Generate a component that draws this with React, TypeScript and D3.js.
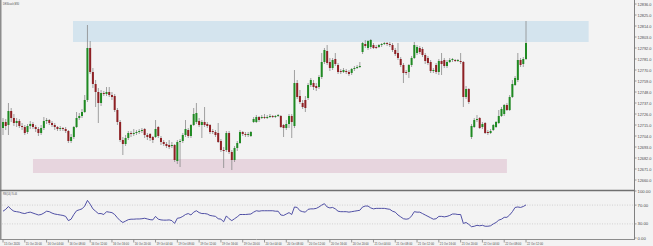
import React from 'react';
import * as d3 from 'd3';

const chartTitle = 'DE30cash,M30';
const rsiTitle = 'RSI(14) 70.44';

// [open, high, low, close]
const candles: [number, number, number, number][] = [
  [12712,12722,12705,12718],[12718,12721,12710,12714],[12715,12737,12705,12729],[12729,12732,12718,12722],
  [12722,12726,12714,12717],[12717,12722,12713,12719],[12719,12721,12712,12714],[12714,12717,12710,12713],
  [12713,12715,12705,12707],[12708,12716,12706,12714],[12714,12719,12711,12716],[12716,12718,12711,12713],
  [12713,12715,12708,12711],[12711,12713,12704,12707],[12707,12715,12705,12712],[12712,12723,12710,12719],
  [12719,12722,12716,12720],[12720,12721,12715,12717],[12717,12719,12713,12715],[12715,12717,12710,12713],
  [12713,12714,12709,12711],[12711,12714,12709,12712],[12712,12713,12709,12711],[12711,12713,12707,12709],
  [12709,12710,12697,12699],[12699,12706,12697,12703],[12703,12714,12701,12713],[12713,12728,12712,12722],
  [12722,12727,12720,12724],[12724,12731,12722,12728],[12728,12745,12727,12740],[12740,12815,12738,12792],
  [12792,12799,12766,12768],[12768,12772,12752,12756],[12756,12760,12733,12748],[12748,12752,12717,12737],
  [12737,12750,12734,12747],[12747,12749,12744,12746],[12746,12753,12744,12748],[12748,12753,12743,12745],
  [12745,12748,12740,12743],[12744,12746,12728,12730],[12730,12732,12715,12718],[12718,12720,12698,12700],
  [12700,12703,12685,12696],[12696,12705,12694,12702],[12702,12709,12700,12707],[12707,12709,12703,12706],
  [12706,12711,12704,12707],[12707,12710,12705,12708],[12708,12711,12706,12709],[12709,12712,12707,12710],
  [12711,12712,12702,12705],[12705,12707,12700,12703],[12706,12707,12699,12702],[12703,12704,12697,12700],
  [12703,12720,12702,12711],[12713,12714,12702,12704],[12702,12704,12695,12698],[12698,12700,12694,12696],
  [12696,12698,12692,12694],[12695,12700,12691,12693],[12694,12698,12692,12695],[12695,12696,12678,12680],
  [12679,12700,12676,12698],[12698,12701,12673,12699],[12699,12707,12697,12705],[12705,12720,12703,12711],
  [12710,12712,12702,12704],[12704,12716,12702,12715],[12715,12732,12714,12726],[12718,12737,12716,12727],
  [12719,12722,12713,12715],[12715,12720,12702,12718],[12718,12733,12713,12715],[12716,12718,12712,12714],
  [12715,12716,12706,12708],[12709,12711,12706,12708],[12708,12710,12703,12705],[12707,12717,12697,12698],
  [12699,12701,12688,12690],[12690,12693,12672,12689],[12690,12709,12688,12707],[12707,12709,12686,12688],
  [12688,12690,12670,12680],[12680,12694,12678,12692],[12692,12699,12689,12697],[12697,12710,12696,12708],
  [12708,12709,12704,12706],[12706,12708,12703,12705],[12705,12708,12703,12706],[12704,12709,12703,12708],
  [12718,12723,12717,12721],[12718,12725,12717,12723],[12723,12724,12718,12720],[12722,12725,12721,12723],
  [12723,12726,12721,12722],[12722,12725,12721,12723],[12723,12726,12722,12724],[12724,12725,12722,12723],
  [12723,12725,12722,12724],[12724,12726,12723,12725],[12724,12725,12712,12713],[12715,12716,12703,12712],
  [12712,12720,12710,12716],[12716,12726,12712,12724],[12724,12726,12702,12718],[12714,12770,12712,12757],
  [12757,12760,12741,12743],[12744,12750,12736,12738],[12737,12740,12731,12733],[12740,12744,12728,12732],
  [12742,12757,12740,12755],[12755,12762,12753,12760],[12757,12760,12750,12753],[12754,12757,12749,12752],
  [12753,12765,12751,12763],[12763,12787,12761,12778],[12778,12792,12776,12790],[12789,12795,12775,12777],
  [12778,12782,12769,12772],[12772,12782,12770,12780],[12781,12787,12774,12776],[12775,12777,12766,12768],
  [12769,12771,12766,12768],[12768,12772,12767,12770],[12769,12771,12766,12768],[12768,12770,12764,12766],
  [12767,12772,12765,12771],[12771,12774,12769,12772],[12772,12775,12771,12773],[12773,12778,12772,12774],
  [12788,12798,12786,12797],[12796,12800,12792,12794],[12792,12800,12790,12799],[12793,12801,12791,12800],
  [12795,12797,12791,12792],[12793,12795,12791,12792],[12793,12796,12792,12795],[12795,12797,12793,12796],
  [12796,12798,12795,12797],[12797,12798,12794,12796],[12796,12798,12793,12795],[12795,12797,12788,12790],
  [12790,12792,12784,12786],[12787,12797,12780,12782],[12781,12783,12773,12775],[12775,12777,12757,12767],
  [12768,12770,12765,12767],[12768,12776,12762,12775],[12775,12784,12773,12782],[12782,12798,12781,12795],
  [12787,12795,12785,12793],[12792,12794,12786,12788],[12791,12793,12783,12785],[12785,12787,12776,12779],
  [12782,12784,12775,12777],[12778,12780,12767,12769],[12769,12772,12767,12770],[12775,12777,12766,12768],
  [12768,12781,12765,12779],[12779,12787,12765,12776],[12780,12782,12772,12774],[12774,12780,12772,12778],
  [12778,12782,12777,12780],[12780,12782,12778,12781],[12780,12781,12778,12779],[12779,12781,12778,12780],
  [12779,12787,12776,12778],[12778,12779,12733,12743],[12743,12754,12741,12751],[12751,12752,12736,12738],
  [12703,12716,12701,12714],[12713,12722,12712,12720],[12720,12725,12718,12721],[12722,12723,12711,12712],
  [12713,12718,12711,12716],[12717,12718,12706,12707],[12708,12710,12705,12707],[12707,12711,12706,12709],
  [12710,12716,12709,12715],[12713,12719,12712,12718],[12717,12730,12716,12724],[12724,12733,12723,12731],
  [12726,12736,12724,12735],[12735,12737,12729,12730],[12730,12745,12729,12743],[12743,12760,12742,12756],
  [12755,12764,12754,12762],[12760,12787,12758,12780],[12780,12782,12773,12775],[12776,12783,12773,12781],
  [12781,12819,12780,12797],
];

const rsiValues: number[] = [
  57,61,67,61,57,56,55,53,52,54,55,53,51,49,50,53,57,56,53,51,50,49,48,46,
  37,40,50,58,60,62,68,80,72,62,57,52,52,50,56,55,54,50,43,37,33,36,39,40,
  40,40.5,40.5,41,42,40.5,39,38.5,46,40,38.5,38,38,38.5,37,31,42,43,46,50,
  52,49,55,58,54,52,52,51,48,47,46,41,40,34.5,47,41,37,41,45,50,50,50,
  50.5,51,55,58,57,58,58,58,58,58,57,57,49,48,51,54,50,66,65,58,56,55,61,62,
  62,63,66,70,73,66,64,65,62,57,56,56,56,55,56,57,58,59,66,68,68,64,62,63,
  63,63,63,62,61,57,55,49,45,41,40,41,47,56,55,55,52,49,46,43,40,41,46,46,
  45,46,48,51,51,50,50,31,33,29,24,25,27,26,27,25,25,26,30,33,38,40,44,44,
  49,56,65,66,65,67,70.44,
];

const priceTicks = [12836,12825,12814,12803,12792,12781,12770,12759,12748,12737,12726,12715,12704,12693,12682,12671,12660];
const rsiTicks = [100, 70, 30, 0];
const rsiLevels = [70, 30];

const timeLabels = [
  '15 Oct 2020','15 Oct 20:00','16 Oct 04:00','16 Oct 08:00','16 Oct 12:00','16 Oct 16:00','16 Oct 20:00',
  '19 Oct 04:00','19 Oct 08:00','19 Oct 12:00','19 Oct 16:00','19 Oct 20:00',
  '20 Oct 04:00','20 Oct 08:00','20 Oct 12:00','20 Oct 16:00','20 Oct 20:00',
  '21 Oct 04:00','21 Oct 08:00','21 Oct 12:00','21 Oct 16:00','21 Oct 20:00',
  '22 Oct 04:00','22 Oct 08:00','22 Oct 12:00',
];
const labelEvery = 8;

// zones: [startBar, endBar, topPrice, bottomPrice]
const resistanceZone = [25.7, 215, 12819, 12798];
const supportZone = [11, 185, 12681, 12667];

export default function App() {
  const W = 653, H = 246;
  const n = candles.length;
  const x = d3.scaleLinear().domain([0, n - 1]).range([3, 526]);
  const y = d3.scaleLinear().domain([12836, 12660]).range([4, 180]);
  const yr = d3.scaleLinear().domain([0, 100]).range([238, 191]);
  const rsiLine = d3.line<number>().x((_, i) => x(i)).y(d => yr(d))(rsiValues) || '';
  const axisX = 634.5;
  const font = '"Liberation Sans", Arial, sans-serif';
  const fs = 4.3;
  const txt = '#4a4a4a';

  const zoneRect = (z: number[], fill: string) => (
    <rect x={x(z[0])} y={y(z[2])} width={x(z[1]) - x(z[0])} height={y(z[3]) - y(z[2])} fill={fill} />
  );

  return (
    <svg width={W} height={H} viewBox={`0 0 ${W} ${H}`}
      style={{ position: 'absolute', left: 0, top: 0, background: '#f3f3f3', display: 'block' }}
      fontFamily={font}>
      <rect x={0} y={0} width={W} height={H} fill="#f3f3f3" />
      {zoneRect(resistanceZone, '#d4e4ee')}
      {zoneRect(supportZone, '#e7d5de')}

      {candles.map(([o, h, l, c], i) => {
        const cx = x(i);
        const bull = c >= o;
        const top = y(Math.max(o, c));
        const bh = Math.max(1, Math.abs(y(o) - y(c)));
        return (
          <g key={i}>
            <line x1={cx} x2={cx} y1={y(h)} y2={y(l)} stroke="#8a8a8a" strokeWidth={0.8} />
            <rect x={cx - 1} y={top} width={2} height={bh} fill={bull ? '#1f8a22' : '#8e2024'} />
          </g>
        );
      })}

      <line x1={0.75} x2={0.75} y1={0} y2={239.5} stroke="#8c8c8c" strokeWidth={1.5} />
      <line x1={axisX} x2={axisX} y1={0} y2={240} stroke="#808080" strokeWidth={1} />
      <line x1={0} x2={axisX} y1={190.5} y2={190.5} stroke="#707070" strokeWidth={1.3} />
      <line x1={0} x2={axisX} y1={239.5} y2={239.5} stroke="#8c8c8c" strokeWidth={1} />

      <text x={3} y={4.8} fontSize={fs} fill={txt} textLength={16} lengthAdjust="spacingAndGlyphs">{chartTitle}</text>

      {priceTicks.map(p => (
        <g key={p}>
          <line x1={axisX} x2={axisX + 2} y1={y(p)} y2={y(p)} stroke="#808080" strokeWidth={0.8} />
          <text x={axisX + 3} y={y(p) + 1.5} fontSize={fs} fill={txt} textLength={14} lengthAdjust="spacingAndGlyphs">{p.toFixed(1)}</text>
        </g>
      ))}

      {rsiLevels.map(v => (
        <line key={v} x1={2} x2={axisX} y1={yr(v)} y2={yr(v)} stroke="#c4c4c4" strokeWidth={0.7} strokeDasharray="1,1.5" />
      ))}
      <path d={rsiLine} fill="none" stroke="#3d3d9c" strokeWidth={0.9} />
      <text x={3} y={194.8} fontSize={fs} fill={txt} textLength={14} lengthAdjust="spacingAndGlyphs">{rsiTitle}</text>
      {rsiTicks.map(v => (
        <g key={v}>
          <line x1={axisX} x2={axisX + 2} y1={yr(v)} y2={yr(v)} stroke="#808080" strokeWidth={0.8} />
          <text x={axisX + 3} y={yr(v) + 1.5} fontSize={fs} fill={txt}>{v.toFixed(2)}</text>
        </g>
      ))}

      {timeLabels.map((t, k) => {
        const tx = x(k * labelEvery);
        return (
          <g key={t}>
            <line x1={tx} x2={tx} y1={239.5} y2={242.5} stroke="#808080" strokeWidth={0.8} />
            <text x={tx + 1} y={244.5} fontSize={3.8} fill={txt} textLength={16} lengthAdjust="spacingAndGlyphs">{t}</text>
          </g>
        );
      })}
    </svg>
  );
}
